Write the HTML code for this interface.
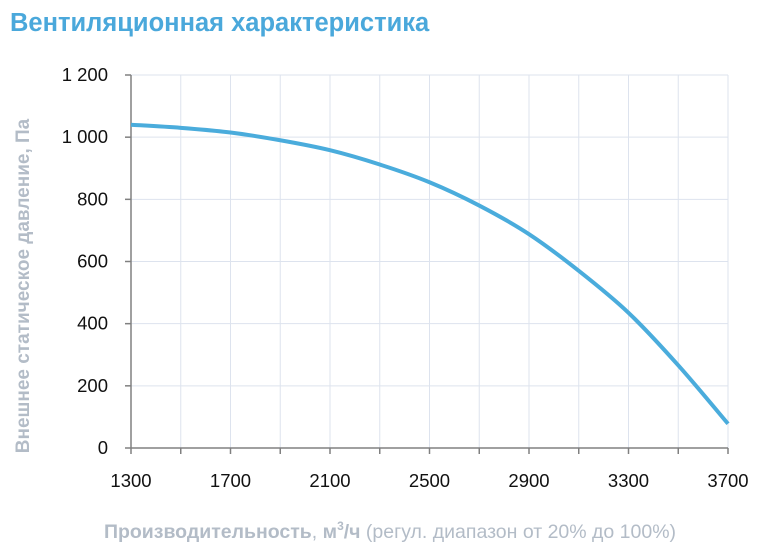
<!DOCTYPE html>
<html><head><meta charset="utf-8"><style>
body{margin:0;background:#fff;width:766px;height:555px;overflow:hidden;font-family:"Liberation Sans","Noto Sans CJK SC",sans-serif}
</style></head><body>
<svg width="766" height="555" xmlns="http://www.w3.org/2000/svg">
<text x="10" y="31" font-size="25.5" font-weight="bold" fill="#4aa8db">Вентиляционная характеристика</text>
<g id="grid"></g>
<g id="axes"></g>
<path id="curve" fill="none" stroke="#4aacdc" stroke-width="4" stroke-linejoin="round"/>
<text transform="translate(29,286) rotate(-90)" text-anchor="middle" font-size="19" font-weight="bold" fill="#b3bcc7">Внешнее статическое давление, Па</text>
<text x="390" y="538" text-anchor="middle" font-size="19.5" fill="#b3bcc7"><tspan font-weight="bold">Производительность</tspan>, <tspan font-weight="bold">м<tspan dy="-8" font-size="12">3</tspan><tspan dy="8">/ч</tspan></tspan> (регул. диапазон от 20% до 100%)</text>
</svg>
<script>
const flows=[1300,1500,1700,1900,2100,2300,2500,2700,2900,3100,3300,3500,3700];
const pressures=[1040,1030,1015,990,958,912,855,780,688,570,435,266,78];
const xTicks=[1300,1500,1700,1900,2100,2300,2500,2700,2900,3100,3300,3500,3700];
const xLabels=[1300,1700,2100,2500,2900,3300,3700];
const yTicks=[0,200,400,600,800,1000,1200];
const yLabels=["0","200","400","600","800","1 000","1 200"];
const X0=131,X1=728,Y0=448,Y1=75;
const sx=v=>X0+(v-1300)/(3700-1300)*(X1-X0);
const sy=v=>Y0-v/1200*(Y0-Y1);
const NS="http://www.w3.org/2000/svg";
const grid=document.getElementById('grid'),axes=document.getElementById('axes');
function mk(tag,attrs,parent){const e=document.createElementNS(NS,tag);for(const k in attrs)e.setAttribute(k,attrs[k]);parent.appendChild(e);return e;}
xTicks.forEach(v=>{
 if(v>1300){const l=mk('line',{x1:sx(v),x2:sx(v),y1:Y1,y2:Y0,stroke:'#dde3ee','stroke-width':1},grid);
 
 }
 const t=mk('line',{x1:sx(v),x2:sx(v),y1:Y0,y2:Y0+6,stroke:'#808080','stroke-width':1.5},axes);
 
 
});
xLabels.forEach(v=>{const t=mk('text',{x:sx(v),y:Y0+39,'text-anchor':'middle','font-size':18.5,fill:'#111'},axes);t.textContent=v;
 
 });
yTicks.forEach((v,i)=>{
 if(v>0){const l=mk('line',{x1:X0,x2:X1,y1:sy(v),y2:sy(v),stroke:'#dde3ee','stroke-width':1},grid);
 
 }
 const tk=mk('line',{x1:X0-6,x2:X0,y1:sy(v),y2:sy(v),stroke:'#808080','stroke-width':1.5},axes);
 
 
 const t=mk('text',{x:X0-23,y:sy(v)+6,'text-anchor':'end','font-size':18.5,fill:'#111'},axes);t.textContent=yLabels[i];
 
 
});
const ya=mk('line',{x1:X0,x2:X0,y1:Y1,y2:Y0,stroke:'#808080','stroke-width':1.5},axes);


const xa=mk('line',{x1:X0,x2:X1,y1:Y0,y2:Y0,stroke:'#808080','stroke-width':1.5},axes);


const pts=flows.map((f,i)=>[sx(f),sy(pressures[i])]);
let d='M'+pts[0][0]+','+pts[0][1];
for(let i=0;i<pts.length-1;i++){const p0=pts[i-1]||pts[i],p1=pts[i],p2=pts[i+1],p3=pts[i+2]||p2;
 d+=' C'+(p1[0]+(p2[0]-p0[0])/6)+','+(p1[1]+(p2[1]-p0[1])/6)+' '+(p2[0]-(p3[0]-p1[0])/6)+','+(p2[1]-(p3[1]-p1[1])/6)+' '+p2[0]+','+p2[1];}
document.getElementById('curve').setAttribute('d',d);
</script>
</body></html>
